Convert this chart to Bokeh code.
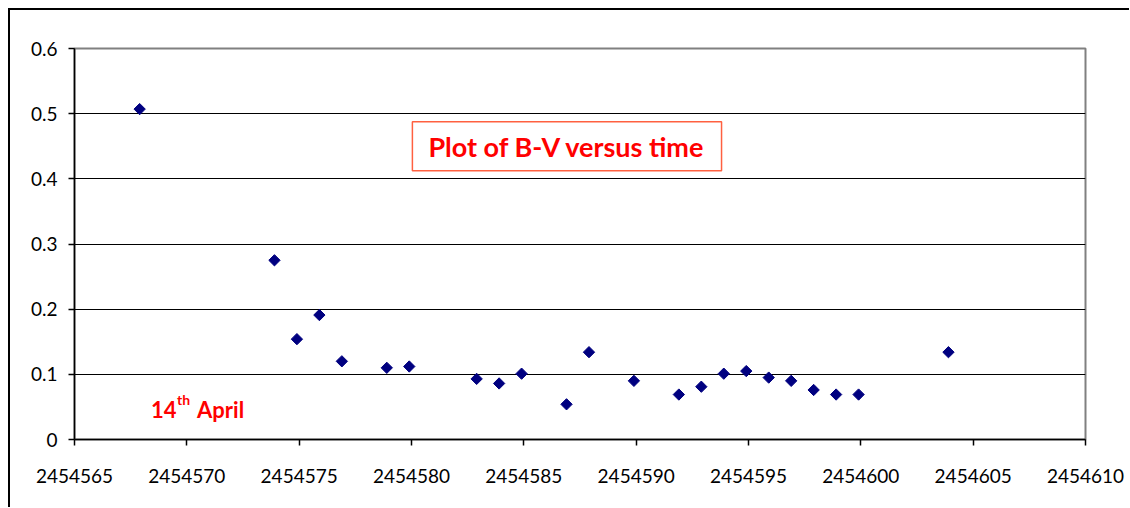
import numpy as np
from bokeh.plotting import figure
from bokeh.models import Label, FixedTicker, NumeralTickFormatter, Range1d
from bokeh.embed import file_html
from bokeh.resources import INLINE

# Julian dates of the observations
jd = [2454567.9, 2454573.9, 2454574.9, 2454575.9, 2454576.9, 2454578.9, 2454579.9,
      2454582.9, 2454583.9, 2454584.9, 2454586.9, 2454587.9, 2454589.9, 2454591.9,
      2454592.9, 2454593.9, 2454594.9, 2454595.9, 2454596.9, 2454597.9, 2454598.9,
      2454599.9, 2454603.9]
# B-V colour index
bv = [0.507, 0.275, 0.154, 0.191, 0.120, 0.110, 0.112,
      0.093, 0.086, 0.101, 0.054, 0.134, 0.090, 0.069,
      0.081, 0.101, 0.105, 0.095, 0.090, 0.076, 0.069,
      0.069, 0.134]
x_ticks = [2454565, 2454570, 2454575, 2454580, 2454585, 2454590, 2454595, 2454600, 2454605, 2454610]
y_ticks = [0, 0.1, 0.2, 0.3, 0.4, 0.5, 0.6]

FONT = "Lato"

p = figure(width=1121, height=499, output_backend="svg", toolbar_location=None,
           x_range=Range1d(2454565, 2454610), y_range=Range1d(0, 0.6),
           min_border_left=64, min_border_right=46, min_border_top=38, min_border_bottom=70)
p.styles = {"border-top": "2px solid #000000", "border-left": "2px solid #000000",
            "margin-left": "8px", "margin-top": "8px"}

p.background_fill_color = "white"
p.border_fill_color = "white"
p.outline_line_color = "#808080"
p.outline_line_width = 2

p.xgrid.grid_line_color = None
p.ygrid.ticker = FixedTicker(ticks=[0.1, 0.2, 0.3, 0.4, 0.5])
p.ygrid.grid_line_color = "#000000"
p.ygrid.grid_line_width = 1

for ax in (p.xaxis[0], p.yaxis[0]):
    ax.axis_line_color = "#000000"
    ax.axis_line_width = 1.5
    ax.major_tick_line_color = "#000000"
    ax.major_tick_line_width = 1.5
    ax.major_tick_in = 0
    ax.major_tick_out = 6
    ax.minor_tick_line_color = None
    ax.major_label_text_font = FONT
    ax.major_label_text_font_size = "19px"
    ax.major_label_text_color = "#000000"

p.xaxis.ticker = FixedTicker(ticks=x_ticks)
p.xaxis.formatter = NumeralTickFormatter(format="0")
p.xaxis.major_label_standoff = 23
p.yaxis.ticker = FixedTicker(ticks=y_ticks)
p.yaxis.formatter = NumeralTickFormatter(format="0.[0]")
p.yaxis.major_label_standoff = 11

p.scatter(jd, bv, marker="square", size=8, angle=np.pi / 4,
          fill_color="#000080", line_color="#000080", line_width=1)

title = Label(x=2454586.92, y=0.450, text="Plot of B-V versus time",
              text_font=FONT, text_font_style="bold", text_font_size="27px",
              text_color="#FF0000", text_align="center", text_baseline="middle",
              border_line_color="#FF6040", border_line_width=1.5,
              background_fill_color="white",
              padding=dict(left=16, right=16, top=8, bottom=8))
p.add_layout(title)

ann_y = 0.046
d1 = Label(x=2454568.41, y=ann_y, text="14", text_font=FONT, text_font_style="bold",
           text_font_size="22px", text_color="#FF0000", text_baseline="alphabetic")
d2 = Label(x=2454568.41, y=ann_y, x_offset=26, y_offset=10, text="th", text_font=FONT,
           text_font_style="bold", text_font_size="14px", text_color="#FF0000",
           text_baseline="alphabetic")
d3 = Label(x=2454568.41, y=ann_y, x_offset=46, text="April", text_font=FONT,
           text_font_style="bold", text_font_size="22px", text_color="#FF0000",
           text_baseline="alphabetic")
for l in (d1, d2, d3):
    p.add_layout(l)

open("out.html", "w").write(file_html(p, INLINE))
